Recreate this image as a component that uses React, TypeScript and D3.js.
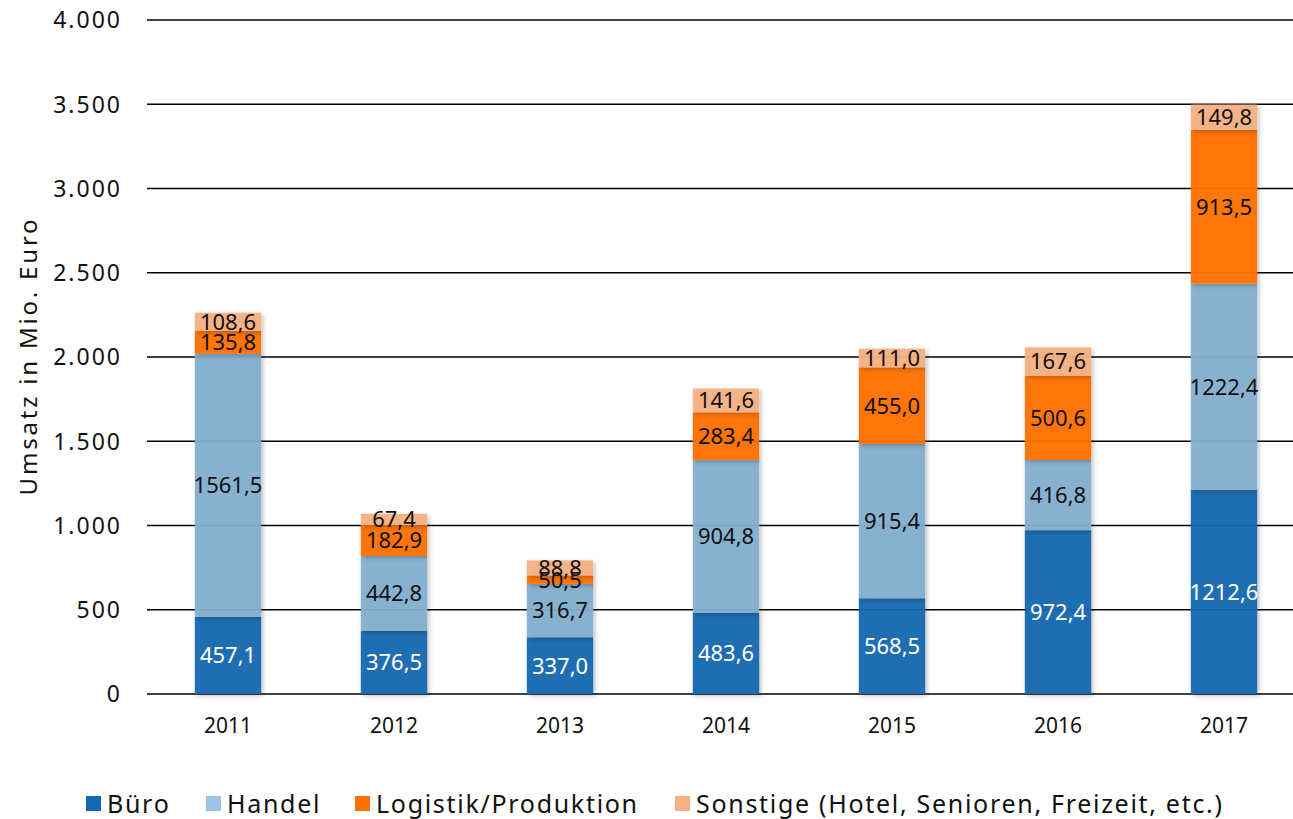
import React from 'react';
import * as d3 from 'd3';

// Data (Mio. Euro)
const years = ['2011', '2012', '2013', '2014', '2015', '2016', '2017'];
const bueroValues = [457.1, 376.5, 337.0, 483.6, 568.5, 972.4, 1212.6];
const handelValues = [1561.5, 442.8, 316.7, 904.8, 915.4, 416.8, 1222.4];
const logistikValues = [135.8, 182.9, 50.5, 283.4, 455.0, 500.6, 913.5];
const sonstigeValues = [108.6, 67.4, 88.8, 141.6, 111.0, 167.6, 149.8];
const yTicks = [0, 500, 1000, 1500, 2000, 2500, 3000, 3500, 4000];

const seriesNames = ['Büro', 'Handel', 'Logistik/Produktion', 'Sonstige (Hotel, Senioren, Freizeit, etc.)'];
const barColors = ['#1469b0', '#84afd0', '#ff7000', '#f4b183'];
const legendColors = ['#1469b0', '#9dc3e6', '#ff7000', '#f4b183'];
const labelColors = ['#ffffff', '#111', '#111', '#111'];

const W = 1293, H = 819;
const FONT = "'Noto Sans', sans-serif";

const fmtLabel = (v: number) => v.toFixed(1).replace('.', ',');
const fmtTick = (v: number) => d3.format(',')(v).replace(/,/g, '.');

export default function App() {
  const x = d3.scaleBand<string>().domain(years).range([145, 1307]).paddingInner(0.6).paddingOuter(0.3);
  const y = d3.scaleLinear().domain([0, 4000]).range([694, 20]);

  const rows = years.map((yr, i) => ({
    year: yr,
    s0: bueroValues[i], s1: handelValues[i], s2: logistikValues[i], s3: sonstigeValues[i],
  }));
  const stack = d3.stack<any>().keys(['s0', 's1', 's2', 's3'])(rows);

  const legendX = [86, 206, 355, 675];

  return (
    <svg width={W} height={H} style={{ position: 'absolute', left: 0, top: 0, background: '#fff' }} fontFamily={FONT}>
      <defs>
        <filter id="shadow" x="-20%" y="-5%" width="140%" height="110%">
          <feDropShadow dx="2" dy="2" stdDeviation="2" floodColor="#000" floodOpacity="0.25" />
        </filter>
      </defs>
      {/* gridlines */}
      {yTicks.map(t => (
        <g key={t}>
          <line x1={147} x2={W} y1={y(t)} y2={y(t)} stroke="#000" strokeWidth={1.3} />
          <text x={122} y={y(t)} dy="0.36em" textAnchor="end" fontSize={23} letterSpacing={2} fill="#111">{fmtTick(t)}</text>
        </g>
      ))}
      {/* bars */}
      {stack.map((layer, si) => (
        <g key={si} filter="url(#shadow)">
          {layer.map((d, i) => (
            <rect key={i} x={x(years[i])!} width={x.bandwidth()} y={y(d[1])} height={y(d[0]) - y(d[1])}
              fill={barColors[si]} fillOpacity={0.95} />
          ))}
        </g>
      ))}
      {/* value labels */}
      {stack.map((layer, si) => (
        <g key={'l' + si}>
          {layer.map((d, i) => (
            <text key={i} x={x(years[i])! + x.bandwidth() / 2} y={(y(d[0]) + y(d[1])) / 2} dy="0.36em"
              textAnchor="middle" fontSize={22} fill={labelColors[si]}>
              {fmtLabel(d[1] - d[0])}
            </text>
          ))}
        </g>
      ))}
      {/* x labels */}
      {years.map(yr => (
        <text key={yr} x={x(yr)! + x.bandwidth() / 2} y={725} dy="0.36em" textAnchor="middle" fontSize={21} fill="#111">{yr}</text>
      ))}
      {/* y axis title */}
      <text transform={`translate(28,356) rotate(-90)`} textAnchor="middle" dy="0.36em" fontSize={24} letterSpacing={2.8} fill="#111">Umsatz in Mio. Euro</text>
      {/* legend */}
      {seriesNames.map((name, i) => (
        <g key={name} transform={`translate(${legendX[i]},796)`}>
          <rect width={15} height={15} fill={legendColors[i]} />
          <text x={21} y={7.5} dy="0.36em" fontSize={25} letterSpacing={1.7} fill="#111">{name}</text>
        </g>
      ))}
    </svg>
  );
}
